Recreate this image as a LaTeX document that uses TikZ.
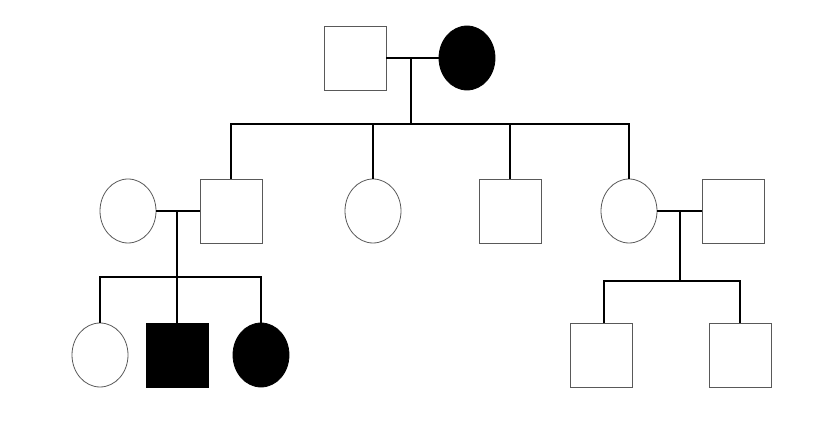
\documentclass[tikz,border=0pt]{standalone}
\usetikzlibrary{shapes.geometric}
\tikzset{
  male/.style={draw=black!65, line width=0.8pt, rectangle, minimum width=62pt, minimum height=64pt, inner sep=0pt},
  female/.style={draw=black!65, line width=0.8pt, ellipse, minimum width=56pt, minimum height=64pt, inner sep=0pt},
  affected/.style={fill=black, draw=black},
  tie/.style={draw, line width=1.6pt, line cap=rect}
}
\begin{document}
\begin{tikzpicture}[x=1pt, y=-1pt]
\useasboundingbox (0,0) rectangle (838,430);
% generation I
\node[male] (m0) at (355,58) {};
\node[female, affected] (f0) at (467,58) {};
% generation II
\node[female] (f1) at (128,211) {};
\node[male] (m1) at (231,211) {};
\node[female] (f2) at (373,211) {};
\node[male] (m2) at (510,211) {};
\node[female] (f3) at (629,211) {};
\node[male] (m3) at (733,211) {};
% generation III
\node[female] (f4) at (100,355) {};
\node[male, affected] (m4) at (177,355) {};
\node[female, affected] (f5) at (261,355) {};
\node[male] (m5) at (601,355) {};
\node[male] (m6) at (740,355) {};

\coordinate (k0) at (411,58);
\coordinate (s0) at (411,124);
\coordinate (s0a) at (231,124);
\coordinate (s0b) at (373,124);
\coordinate (s0c) at (510,124);
\coordinate (s0d) at (629,124);
\coordinate (k1) at (177,211);
\coordinate (s1) at (177,277);
\coordinate (s1a) at (100,277);
\coordinate (s1c) at (261,277);
\coordinate (k3) at (680,211);
\coordinate (s3) at (680,281);
\coordinate (s3a) at (604,281);
\coordinate (s3b) at (740,281);

\path[tie] (m0) -- (f0);
\path[tie] (k0) -- (s0);
\path[tie] (s0a) -- (s0d);
\path[tie] (s0a) -- (m1);
\path[tie] (s0b) -- (f2);
\path[tie] (s0c) -- (m2);
\path[tie] (s0d) -- (f3);

\path[tie] (f1) -- (m1);
\path[tie] (k1) -- (s1);
\path[tie] (s1a) -- (s1c);
\path[tie] (s1a) -- (f4);
\path[tie] (s1) -- (m4);
\path[tie] (s1c) -- (f5);

\path[tie] (f3) -- (m3);
\path[tie] (k3) -- (s3);
\path[tie] (s3a) -- (s3b);
\path[tie] (s3a) -- (s3a |- m5.north);
\path[tie] (s3b) -- (m6);
\end{tikzpicture}
\end{document}
